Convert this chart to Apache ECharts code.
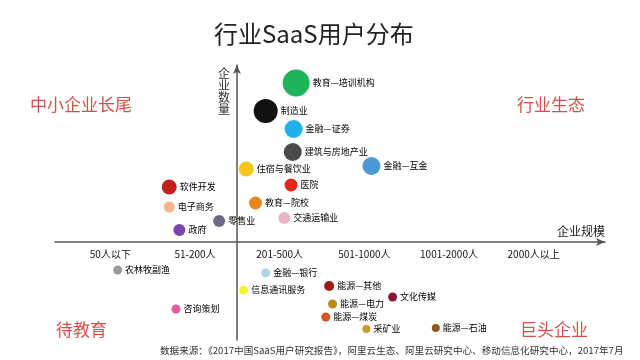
<!DOCTYPE html>
<html>
<head>
<meta charset="utf-8">
<script src="https://cdn.jsdelivr.net/npm/echarts@6/dist/echarts.min.js"></script>
<style>html,body{margin:0;padding:0;background:#fff}#c{width:640px;height:360px}</style>
</head>
<body>
<div id="c"></div>
<script>
// Tick labels of the scale axis (company size)
var xCategories = ['50人以下', '51-200人', '201-500人', '501-1000人', '1001-2000人', '2000人以上'];

// Industries
var names = ['教育—培训机构', '制造业', '金融—证券', '建筑与房地产业', '金融—互金', '住宿与餐饮业', '医院', '软件开发', '电子商务', '教育—院校', '交通运输业', '零售业', '政府', '农林牧副渔', '咨询策划', '金融—银行', '信息通讯服务', '能源—其他', '文化传媒', '能源—电力', '能源—煤炭', '采矿业', '能源—石油'];
// Company scale (x, vertical axis at 0, category centres at -1.5 .. 3.5) and company-count (y) positions
var xValues = [0.70, 0.34, 0.67, 0.66, 1.59, 0.11, 0.64, -0.80, -0.80, 0.22, 0.56, -0.21, -0.68, -1.41, -0.72, 0.34, 0.08, 1.09, 1.84, 1.13, 1.05, 1.53, 2.35];
var yValues = [15.9, 13.1, 11.3, 9.0, 7.6, 7.3, 5.7, 5.5, 3.5, 3.9, 2.4, 2.1, 1.2, -2.8, -6.7, -3.1, -4.8, -4.4, -5.5, -6.2, -7.5, -8.7, -8.6];
// Bubble magnitudes
var bubbleSizes = [27, 24, 18, 18, 18, 15, 13, 15, 11, 13, 12, 12, 12, 9, 9, 9, 9, 10, 9, 9, 9, 8, 8];

// Styles
var colors = ['#1fb45a', '#111111', '#1eb1ea', '#4a4a4a', '#4a98d6', '#f6c619', '#e8261b', '#c0211b', '#f3b58e', '#e8861c', '#ebb6c4', '#6a6a86', '#7a45b0', '#9a9a9a', '#ea5aa0', '#a9d6e2', '#f4f42c', '#a01b12', '#8c1535', '#b98a14', '#d9531c', '#c49b2c', '#8b5a1c'];

var FONT = 'Noto Sans CJK SC';
var RED = '#d4504a';

var data = names.map(function (n, i) {
  return {
    name: n,
    value: [xValues[i], yValues[i]],
    symbolSize: bubbleSizes[i],
    itemStyle: { color: colors[i], opacity: 1 }
  };
});

var chart = echarts.init(document.getElementById('c'), null, { renderer: 'canvas' });
chart.setOption({
  backgroundColor: '#ffffff',
  animation: false,
  textStyle: { fontFamily: FONT },
  title: {
    text: '行业SaaS用户分布',
    left: 214, top: 22, padding: 0,
    textStyle: { fontFamily: FONT, fontSize: 24, fontWeight: 'normal', color: '#222' }
  },
  grid: [
    { left: 55, right: 35, top: 65, bottom: 20 },
    // band grid for the size-category labels, its bottom edge on the horizontal axis
    { left: 68, right: 64, top: 200, height: 42 }
  ],
  xAxis: [{
    type: 'value', min: -2.15, max: 4.35, gridIndex: 0,
    name: '企业规模', nameLocation: 'end', nameGap: 0,
    nameTextStyle: { fontFamily: FONT, fontSize: 12, color: '#222', align: 'right', verticalAlign: 'bottom', padding: [0, 0, 5, 0] },
    axisLine: { onZero: true, symbol: ['none', 'arrow'], symbolSize: [6, 9], lineStyle: { color: '#555', width: 1.5 } },
    axisTick: { show: false },
    splitLine: { show: false },
    axisLabel: { show: false }
  }, {
    type: 'category', gridIndex: 1, data: xCategories, position: 'bottom',
    axisLine: { show: false }, axisTick: { show: false }, splitLine: { show: false },
    axisLabel: { interval: 0, margin: 7, fontSize: 10, color: '#111', fontFamily: FONT }
  }],
  yAxis: [{
    type: 'value', min: -9.8, max: 17.7, gridIndex: 0,
    name: '企\n业\n数\n量', nameLocation: 'end', nameGap: 0,
    nameTextStyle: { fontFamily: FONT, fontSize: 12, lineHeight: 12, color: '#333', align: 'right', verticalAlign: 'top', padding: [2, 7, 0, 0] },
    axisLine: { onZero: true, symbol: ['none', 'arrow'], symbolSize: [6, 9], lineStyle: { color: '#555', width: 1.5 } },
    axisTick: { show: false },
    splitLine: { show: false },
    axisLabel: { show: false }
  }, {
    type: 'value', gridIndex: 1, show: false
  }],
  series: [{
    type: 'scatter',
    xAxisIndex: 0, yAxisIndex: 0,
    data: data,
    label: {
      show: true, position: 'right', distance: 3,
      formatter: '{b}', fontSize: 9, color: '#000', fontFamily: FONT
    }
  }],
  graphic: [
    { type: 'text', left: 30, top: 96, style: { text: '中小企业长尾', font: '17px "' + FONT + '"', fill: RED } },
    { type: 'text', left: 517, top: 96, style: { text: '行业生态', font: '17px "' + FONT + '"', fill: RED } },
    { type: 'text', left: 56, top: 321, style: { text: '待教育', font: '17px "' + FONT + '"', fill: RED } },
    { type: 'text', left: 520, top: 321, style: { text: '巨头企业', font: '17px "' + FONT + '"', fill: RED } },
    { type: 'text', left: 160, top: 346, style: { text: '数据来源：《2017中国SaaS用户研究报告》，阿里云生态、阿里云研究中心、移动信息化研究中心，2017年7月', font: '9.6px "' + FONT + '"', fill: '#333' } }
  ]
});
</script>
</body>
</html>
